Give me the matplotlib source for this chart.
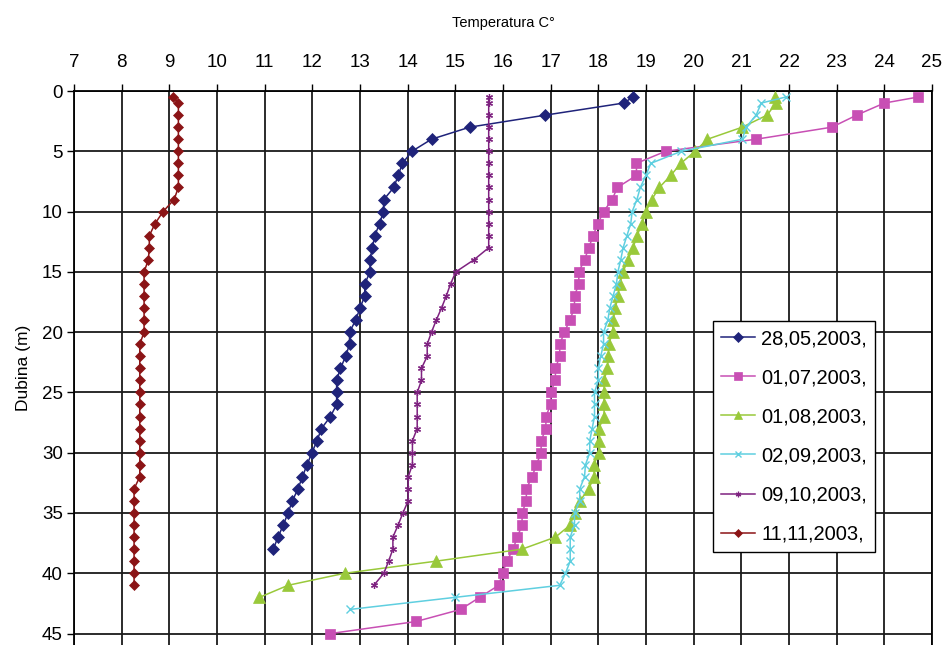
import matplotlib
matplotlib.use("Agg")
import matplotlib.pyplot as plt

plt.rcParams['font.family'] = ['Liberation Sans', 'DejaVu Sans']

depth = [0.5, 1, 2, 3, 4, 5, 6, 7, 8, 9, 10, 11, 12, 13, 14, 15, 16, 17, 18, 19, 20,
         21, 22, 23, 24, 25, 26, 27, 28, 29, 30, 31, 32, 33, 34, 35, 36, 37, 38, 39, 40,
         41, 42, 43, 44, 45]

t_2805 = [18.73, 18.53, 16.89, 15.30, 14.50, 14.09, 13.89, 13.80, 13.71, 13.50, 13.49,
          13.41, 13.31, 13.26, 13.21, 13.21, 13.10, 13.10, 13.00, 12.91, 12.78, 12.78,
          12.70, 12.59, 12.51, 12.51, 12.51, 12.38, 12.19, 12.10, 11.99, 11.89, 11.79,
          11.70, 11.58, 11.49, 11.39, 11.28, 11.18]

t_0107 = [24.71, 24.00, 23.42, 22.90, 21.31, 19.41, 18.80, 18.80, 18.40, 18.29, 18.11,
          17.99, 17.89, 17.80, 17.71, 17.59, 17.59, 17.50, 17.50, 17.40, 17.29, 17.19,
          17.19, 17.10, 17.10, 17.00, 17.00, 16.90, 16.90, 16.80, 16.80, 16.70, 16.61,
          16.49, 16.49, 16.40, 16.40, 16.30, 16.21, 16.08, 15.99, 15.91, 15.51, 15.11,
          14.18, 12.38]

t_0108 = [21.70, 21.73, 21.54, 21.02, 20.29, 20.03, 19.73, 19.52, 19.28, 19.12, 19.00,
          18.92, 18.81, 18.73, 18.62, 18.52, 18.45, 18.41, 18.36, 18.31, 18.30, 18.22,
          18.21, 18.19, 18.12, 18.12, 18.12, 18.12, 18.01, 18.01, 18.01, 17.91, 17.91,
          17.80, 17.61, 17.50, 17.41, 17.10, 16.40, 14.59, 12.68, 11.49, 10.89]

t_0209 = [21.93, 21.42, 21.31, 21.10, 21.02, 19.74, 19.10, 19.00, 18.88, 18.81, 18.71,
          18.68, 18.60, 18.52, 18.47, 18.41, 18.38, 18.31, 18.24, 18.20, 18.11, 18.11,
          18.05, 18.00, 18.00, 17.92, 17.92, 17.92, 17.87, 17.82, 17.82, 17.73, 17.71,
          17.61, 17.61, 17.50, 17.50, 17.41, 17.41, 17.41, 17.31, 17.19, 14.99, 12.79]

t_0910 = [15.70, 15.70, 15.70, 15.70, 15.70, 15.70, 15.70, 15.70, 15.70, 15.70, 15.70,
          15.70, 15.70, 15.70, 15.39, 15.01, 14.90, 14.81, 14.71, 14.60, 14.50, 14.41,
          14.41, 14.29, 14.29, 14.20, 14.20, 14.20, 14.20, 14.10, 14.10, 14.10, 14.01,
          14.01, 14.01, 13.90, 13.80, 13.69, 13.69, 13.60, 13.50, 13.29]

t_1111 = [9.08, 9.19, 9.19, 9.19, 9.19, 9.19, 9.19, 9.19, 9.19, 9.10, 8.87, 8.70, 8.58,
          8.58, 8.56, 8.47, 8.47, 8.47, 8.47, 8.47, 8.47, 8.38, 8.38, 8.38, 8.38, 8.38,
          8.38, 8.38, 8.38, 8.38, 8.38, 8.38, 8.38, 8.26, 8.26, 8.26, 8.26, 8.26, 8.26,
          8.26, 8.26, 8.26]

labels = ["28,05,2003,", "01,07,2003,", "01,08,2003,", "02,09,2003,", "09,10,2003,", "11,11,2003,"]
x_ticks = [7, 8, 9, 10, 11, 12, 13, 14, 15, 16, 17, 18, 19, 20, 21, 22, 23, 24, 25]
y_ticks = [0, 5, 10, 15, 20, 25, 30, 35, 40, 45]

series = [t_2805, t_0107, t_0108, t_0209, t_0910, t_1111]
styles = [
    dict(color="#1f237a", marker="D", ms=6.5, mew=0.5, lw=1.1),
    dict(color="#c84fb4", marker="s", ms=7, mew=0.5, lw=1.1),
    dict(color="#99c93a", marker="^", ms=8, mew=0.5, lw=1.1),
    dict(color="#5fcfe0", marker="x", ms=5.5, mew=1.0, lw=1.1),
    dict(color="#7e2280", marker=(6, 2, 0), ms=5, mew=0.9, lw=1.1),
    dict(color="#8b1416", marker="D", ms=5.5, mew=0.5, lw=1.1),
]

fig = plt.figure(figsize=(9.46, 6.45), dpi=100)
ax = fig.add_axes([74 / 946, 0.0, (932 - 74) / 946, (645 - 91) / 645])

for temps, lab, st in zip(series, labels, styles):
    ax.plot(temps, depth[:len(temps)], label=lab, color=st["color"], marker=st["marker"],
            markersize=st["ms"], markeredgewidth=st["mew"], linewidth=st["lw"],
            markeredgecolor=st["color"], markerfacecolor=st["color"], zorder=3)

ax.set_xlim(7, 25)
ax.set_ylim(45.95, 0)
ax.set_xticks(x_ticks)
ax.set_yticks(y_ticks)
ax.xaxis.tick_top()
ax.xaxis.set_label_position("top")
ax.tick_params(axis="both", which="major", labelsize=13.5, length=5, width=1.0,
               color="black", direction="out", pad=3)
ax.tick_params(axis="x", pad=9.5)
ax.grid(True, color="#1a1a1a", linewidth=1.3)
ax.set_axisbelow(True)
for s in ["top", "left", "right"]:
    ax.spines[s].set_color("black")
    ax.spines[s].set_linewidth(1.3)
ax.spines["bottom"].set_visible(False)

ax.set_xlabel("Temperatura C°", fontsize=10.5, labelpad=19)
ax.set_ylabel("Dubina (m)", fontsize=12.5, labelpad=8)

leg = ax.legend(loc="upper left", bbox_to_anchor=((713 - 74) / 858, 1 - (321 - 91) / 554),
                fontsize=14.5, frameon=True, fancybox=False, edgecolor="black",
                framealpha=1, labelspacing=1.0, handlelength=1.7, handletextpad=0.3,
                borderpad=0.4, borderaxespad=0, markerscale=0.8)
leg.get_frame().set_linewidth(1.0)

fig.savefig("out.png", dpi=100)
